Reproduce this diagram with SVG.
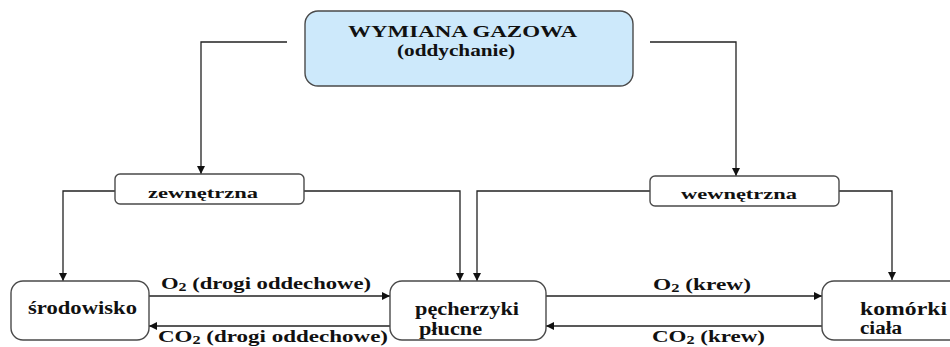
<svg xmlns="http://www.w3.org/2000/svg" width="950" height="347" viewBox="0 0 950 347">
  <style>
    .box { fill: #ffffff; stroke: #4a4a4a; stroke-width: 1.4; }
    .main { fill: #cde9fb; }
    .lbl { font-family: "Liberation Serif", "DejaVu Serif", serif; font-weight: bold; font-size: 15px; fill: #111; }
    .head { font-size: 16px; }
    .node { font-size: 18px; }
    .edge { font-size: 17px; }
    .sub { font-size: 12px; }
    .wire { fill: none; stroke: #222; stroke-width: 1.3; }
  </style>
  <defs>
    <marker id="arrow" viewBox="0 0 10 10" refX="10" refY="5" markerWidth="8" markerHeight="8" markerUnits="userSpaceOnUse" orient="auto">
      <path d="M0,0 L10,5 L0,10 Z" fill="#111"/>
    </marker>
  </defs>
  <rect width="950" height="347" fill="#ffffff"/>

  <g id="connectors">
    <polyline class="wire" points="287,42 201,42 201,174" marker-end="url(#arrow)"/>
    <polyline class="wire" points="650,42 736,42 736,176" marker-end="url(#arrow)"/>
    <polyline class="wire" points="115,191 63,191 63,281" marker-end="url(#arrow)"/>
    <polyline class="wire" points="304,191 460,191 460,281" marker-end="url(#arrow)"/>
    <polyline class="wire" points="650,191 477,191 477,281" marker-end="url(#arrow)"/>
    <polyline class="wire" points="839,191 892,191 892,280" marker-end="url(#arrow)"/>
    <line class="wire" x1="149" y1="296" x2="390" y2="296" marker-end="url(#arrow)"/>
    <line class="wire" x1="390" y1="326" x2="149" y2="326" marker-end="url(#arrow)"/>
    <line class="wire" x1="546" y1="296" x2="822" y2="296" marker-end="url(#arrow)"/>
    <line class="wire" x1="822" y1="326" x2="546" y2="326" marker-end="url(#arrow)"/>
    <text class="lbl edge" x="161" y="289" textLength="210" lengthAdjust="spacingAndGlyphs">O<tspan class="sub" dy="2">2</tspan><tspan dy="-2"> (drogi oddechowe)</tspan></text>
    <text class="lbl edge" x="158" y="342" textLength="230" lengthAdjust="spacingAndGlyphs">CO<tspan class="sub" dy="2">2</tspan><tspan dy="-2"> (drogi oddechowe)</tspan></text>
    <text class="lbl edge" x="653" y="290" textLength="98" lengthAdjust="spacingAndGlyphs">O<tspan class="sub" dy="2">2</tspan><tspan dy="-2"> (krew)</tspan></text>
    <text class="lbl edge" x="652" y="342" textLength="113" lengthAdjust="spacingAndGlyphs">CO<tspan class="sub" dy="2">2</tspan><tspan dy="-2"> (krew)</tspan></text>
  </g>

  <g id="wymiana">
    <rect class="box main" x="305" y="11" width="328" height="75" rx="13"/>
    <text class="lbl head" x="348" y="37" textLength="229" lengthAdjust="spacingAndGlyphs">WYMIANA GAZOWA</text>
    <text class="lbl head" x="397" y="56" textLength="118" lengthAdjust="spacingAndGlyphs">(oddychanie)</text>
  </g>

  <g id="zewnetrzna">
    <rect class="box" x="115" y="174" width="189" height="30" rx="5"/>
    <text class="lbl" x="148" y="198" textLength="110" lengthAdjust="spacingAndGlyphs">zewnętrzna</text>
  </g>

  <g id="wewnetrzna">
    <rect class="box" x="650" y="176" width="189" height="30" rx="5"/>
    <text class="lbl" x="681" y="199" textLength="116" lengthAdjust="spacingAndGlyphs">wewnętrzna</text>
  </g>

  <g id="srodowisko">
    <rect class="box" x="11" y="281" width="138" height="59" rx="12"/>
    <text class="lbl node" x="28" y="314" textLength="109" lengthAdjust="spacingAndGlyphs">środowisko</text>
  </g>

  <g id="pecherzyki">
    <rect class="box" x="390" y="281" width="156" height="59" rx="12"/>
    <text class="lbl node" x="415" y="315" textLength="104" lengthAdjust="spacingAndGlyphs">pęcherzyki</text>
    <text class="lbl node" x="419" y="335" textLength="63" lengthAdjust="spacingAndGlyphs">płucne</text>
  </g>

  <g id="komorki">
    <rect class="box" x="822" y="281" width="150" height="59" rx="12"/>
    <text class="lbl node" x="860" y="315" textLength="87" lengthAdjust="spacingAndGlyphs">komórki</text>
    <text class="lbl node" x="860" y="334" textLength="42" lengthAdjust="spacingAndGlyphs">ciała</text>
  </g>
</svg>
